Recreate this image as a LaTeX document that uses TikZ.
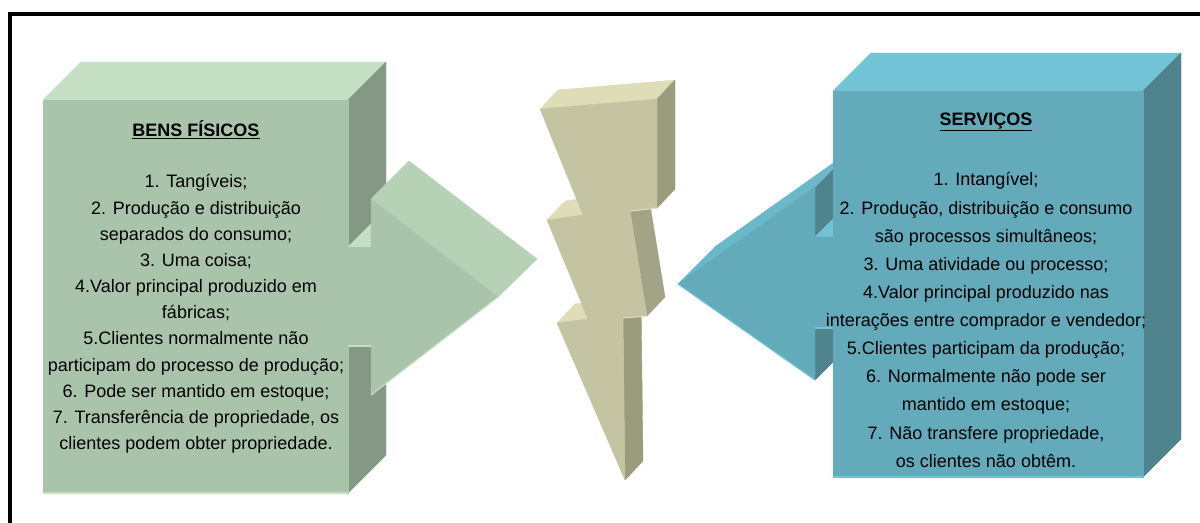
\documentclass[tikz,border=0pt]{standalone}
\usepackage{fontspec}
\setmainfont{Liberation Sans}

\definecolor{gfront}{HTML}{AAC4AB}
\definecolor{gtop}{HTML}{C4DFC4}
\definecolor{gside}{HTML}{859785}
\definecolor{ghead}{HTML}{B7D1B7}
\definecolor{bfront}{HTML}{63AABA}
\definecolor{btop}{HTML}{72C3D5}
\definecolor{bside}{HTML}{4F838D}
\definecolor{bhead}{HTML}{6BB8C8}
\definecolor{yfront}{HTML}{C4C4A2}
\definecolor{ytop}{HTML}{DEDDB7}
\definecolor{yside}{HTML}{9B9B7D}
\definecolor{ymid}{HTML}{A3A387}

\begin{document}
\begin{tikzpicture}[
    x=0.025cm, y=-0.025cm,
    face/.style={fill=#1, draw=#1, line width=0.3pt, line join=round},
    glow/.style={draw=#1, line width=0.8pt},
    heading/.style={font=\fontsize{12.8}{15}\selectfont\bfseries, inner sep=0pt},
    itemsA/.style={align=center, font=\fontsize{12.8}{18.6}\selectfont, inner sep=0pt},
    itemsB/.style={align=center, font=\fontsize{12.8}{20}\selectfont, inner sep=0pt}
]

    % Frame
    \useasboundingbox (0,0) rectangle (1200,522);
    \clip (0,0) rectangle (1200,522);
    \draw[line width=2.2pt] (10,14) rectangle (1215,540);

    % Left box (bens fisicos)
    \path[face=gtop] (43,100) -- (81,62) -- (386,62) -- (348,100) -- cycle;
    \path[face=gside] (348,100) -- (386,62) -- (386,455) -- (348,493) -- cycle;
    \path[face=gfront] (43,100) rectangle (348,493);
    \draw[glow=gtop] (43,493) -- (348,493);

    % Green arrow to the right
    \path[face=gtop] (348,247) -- (386,209) -- (409,209) -- (371,247) -- cycle;
    \path[face=gfront] (347,247) rectangle (371,346);
    \path[face=ghead] (371,199) -- (409,161) -- (537,259) -- (498,297) -- cycle;
    \path[face=gfront] (371,199) -- (498,297) -- (371,395) -- cycle;
    \draw[glow=gtop] (348,346) -- (371,346);
    \draw[glow=gtop] (371,395) -- (498,297);

    % Lightning bolt
    \path[face=ytop] (540,109) -- (558,90) -- (675,80) -- (657,99) -- cycle;
    \path[face=yside] (657,99) -- (675,80) -- (675,189) -- (657,208) -- cycle;
    \path[face=ymid] (630,211) -- (648,192) -- (665,297) -- (647,316) -- cycle;
    \path[face=yside] (623,318) -- (641,299) -- (643,461) -- (625,480) -- cycle;
    \path[face=ytop] (557,323) -- (575,304) -- (606,300) -- (588,319) -- cycle;
    \path[face=ytop] (547,220) -- (565,201) -- (601,196) -- (583,215) -- cycle;
    \path[face=yfront] (540,109) -- (657,99) -- (657,208) -- (630,211) -- (647,316)
        -- (623,318) -- (625,480) -- (557,323) -- (588,319) -- (547,220) -- (583,215) -- cycle;
    \draw[glow=ytop] (630,211) -- (657,208);
    \draw[glow=ytop] (623,318) -- (647,316);

    % Blue arrow to the left
    \path[face=bside] (815,187) -- (853,149) -- (853,199) -- (815,237) -- cycle;
    \path[face=btop] (815,237) -- (853,199) -- (900,199) -- (862,237) -- cycle;
    \path[face=bhead] (678,284) -- (716,246) -- (853,149) -- (815,187) -- cycle;
    \path[face=bside] (815,328) -- (853,290) -- (853,342) -- (815,380) -- cycle;
    \path[face=bfront] (678,284) -- (815,187) -- (815,237) -- (850,237) -- (850,328)
        -- (815,328) -- (815,380) -- cycle;
    \draw[glow=btop] (678,284) -- (815,380);
    \draw[glow=btop] (815,328) -- (833,328);

    % Right box (servicos)
    \path[face=btop] (833,91) -- (871,53) -- (1181,53) -- (1143,91) -- cycle;
    \path[face=bside] (1143,91) -- (1181,53) -- (1181,439) -- (1143,477) -- cycle;
    \path[face=bfront] (833,91) rectangle (1143,477);
    \draw[glow=btop] (833,477) -- (1143,477);

    % Texts
    \node[heading] (bens) at (196,130) {\underline{BENS FÍSICOS}};
    \node[itemsA] (benslist) at (196,314) {1. Tangíveis;\\
        2. Produção e distribuição\\
        separados do consumo;\\
        3. Uma coisa;\\
        4.Valor principal produzido em\\
        fábricas;\\
        5.Clientes normalmente não\\
        participam do processo de produção;\\
        6. Pode ser mantido em estoque;\\
        7. Transferência de propriedade, os\\
        clientes podem obter propriedade.};

    \node[heading] (serv) at (986,122) {\underline{SERVIÇOS}};
    \node[itemsB] (servlist) at (986,320) {1. Intangível;\\
        2. Produção, distribuição e consumo\\
        são processos simultâneos;\\
        3. Uma atividade ou processo;\\
        4.Valor principal produzido nas\\
        interações entre comprador e vendedor;\\
        5.Clientes participam da produção;\\
        6. Normalmente não pode ser\\
        mantido em estoque;\\
        7. Não transfere propriedade,\\
        os clientes não obtêm.};

\end{tikzpicture}
\end{document}
